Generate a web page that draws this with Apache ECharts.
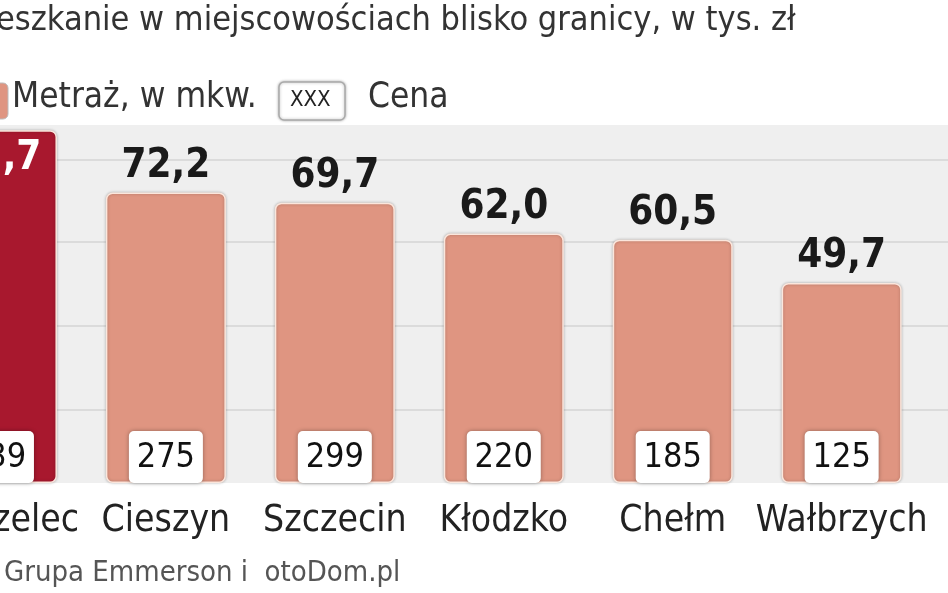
<!DOCTYPE html>
<html><head><meta charset="utf-8">
<script src="https://cdn.jsdelivr.net/npm/echarts@6/dist/echarts.min.js"></script>
<style>html,body{margin:0;padding:0;background:#fff;overflow:hidden}#c{width:1352px;height:593px;margin-left:-88px}</style>
</head><body><div id="c"></div>
<script>
const categories = ['Zgorzelec','Cieszyn','Szczecin','Kłodzko','Chełm','Wałbrzych','Legnica','Lubań'];
const metraz = [87.7, 72.2, 69.7, 62.0, 60.5, 49.7, 45.0, 40.0];
const cena = [339, 275, 299, 220, 185, 125, 110, 100];
const gridLines = [18.2, 39, 60, 80.4];
const F = "'Liberation Sans Narrow','DejaVu Sans Condensed','Roboto',sans-serif";
const OX = 88;
const chart = echarts.init(document.getElementById('c'));
chart.setOption({
  animation:false,
  grid:{left:0,width:1352,top:125,bottom:110,show:true,backgroundColor:'#efefef',borderWidth:0},
  xAxis:{type:'category',data:categories,axisLine:{show:false},axisTick:{show:false},
    axisLabel:{interval:0,fontFamily:F,fontSize:37,color:'#222',margin:20}},
  yAxis:{type:'value',min:0,max:89,show:false,splitLine:{show:false}},
  series:[{
    type:'bar',barWidth:120,
    data:metraz.map((v,i)=>({value:v,itemStyle:{color:i===0?'#a8182e':'#df9581'},
      label:i===0?{position:'insideTop',color:'#fff',distance:8}:{}})),
    itemStyle:{borderRadius:6,borderColor:'#fbe6dc',borderWidth:1.5,shadowColor:'rgba(0,0,0,0.25)',shadowBlur:3},
    label:{show:true,position:'top',distance:6,fontFamily:F,fontWeight:'bold',fontSize:40,color:'#1a1a1a',
      formatter:p=>p.value.toFixed(1).replace('.',',')},
    markLine:{silent:true,symbol:'none',label:{show:false},z:0,
      lineStyle:{color:'#d4d4d4',type:'solid',width:1.5},data:gridLines.map(v=>({yAxis:v}))}
  },{
    type:'bar',barWidth:120,barGap:'-100%',
    data:metraz.map(v=>v),
    itemStyle:{color:'transparent'},
    label:{show:true,position:'insideBottom',distance:0,fontFamily:F,fontSize:34,color:'#111',
      backgroundColor:'#fff',borderRadius:5,padding:[10,10,8,10],width:54,align:'center',
      shadowColor:'rgba(0,0,0,0.35)',shadowBlur:4,
      formatter:p=>String(cena[p.dataIndex])}
  }],
  graphic:[
    {type:'text',left:OX-4,top:4,style:{text:'eszkanie w miejscowościach blisko granicy, w tys. zł',font:"34px 'Liberation Sans Narrow','DejaVu Sans Condensed',sans-serif",fill:'#333'}},
    {type:'rect',shape:{x:OX-20,y:83,width:28,height:36,r:5},style:{fill:'#df9581',stroke:'#bbb'}},
    {type:'text',left:OX+12,top:80,style:{text:'Metraż, w mkw.',font:"35px 'Liberation Sans Narrow','DejaVu Sans Condensed',sans-serif",fill:'#333'}},
    {type:'rect',shape:{x:OX+279,y:82,width:66,height:38,r:5},style:{fill:'#fff',stroke:'#aaa',lineWidth:1.5,shadowColor:'rgba(0,0,0,0.3)',shadowBlur:3}},
    {type:'text',left:OX+290,top:89,style:{text:'XXX',font:"22px 'Liberation Sans Narrow','DejaVu Sans Condensed',sans-serif",fill:'#222'}},
    {type:'text',left:OX+368,top:80,style:{text:'Cena',font:"35px 'Liberation Sans Narrow','DejaVu Sans Condensed',sans-serif",fill:'#333'}},
    {type:'text',left:OX+4,top:559,style:{text:'Grupa Emmerson i  otoDom.pl',font:"29px 'Liberation Sans Narrow','DejaVu Sans Condensed',sans-serif",fill:'#555'}}
  ]
});
</script></body></html>
